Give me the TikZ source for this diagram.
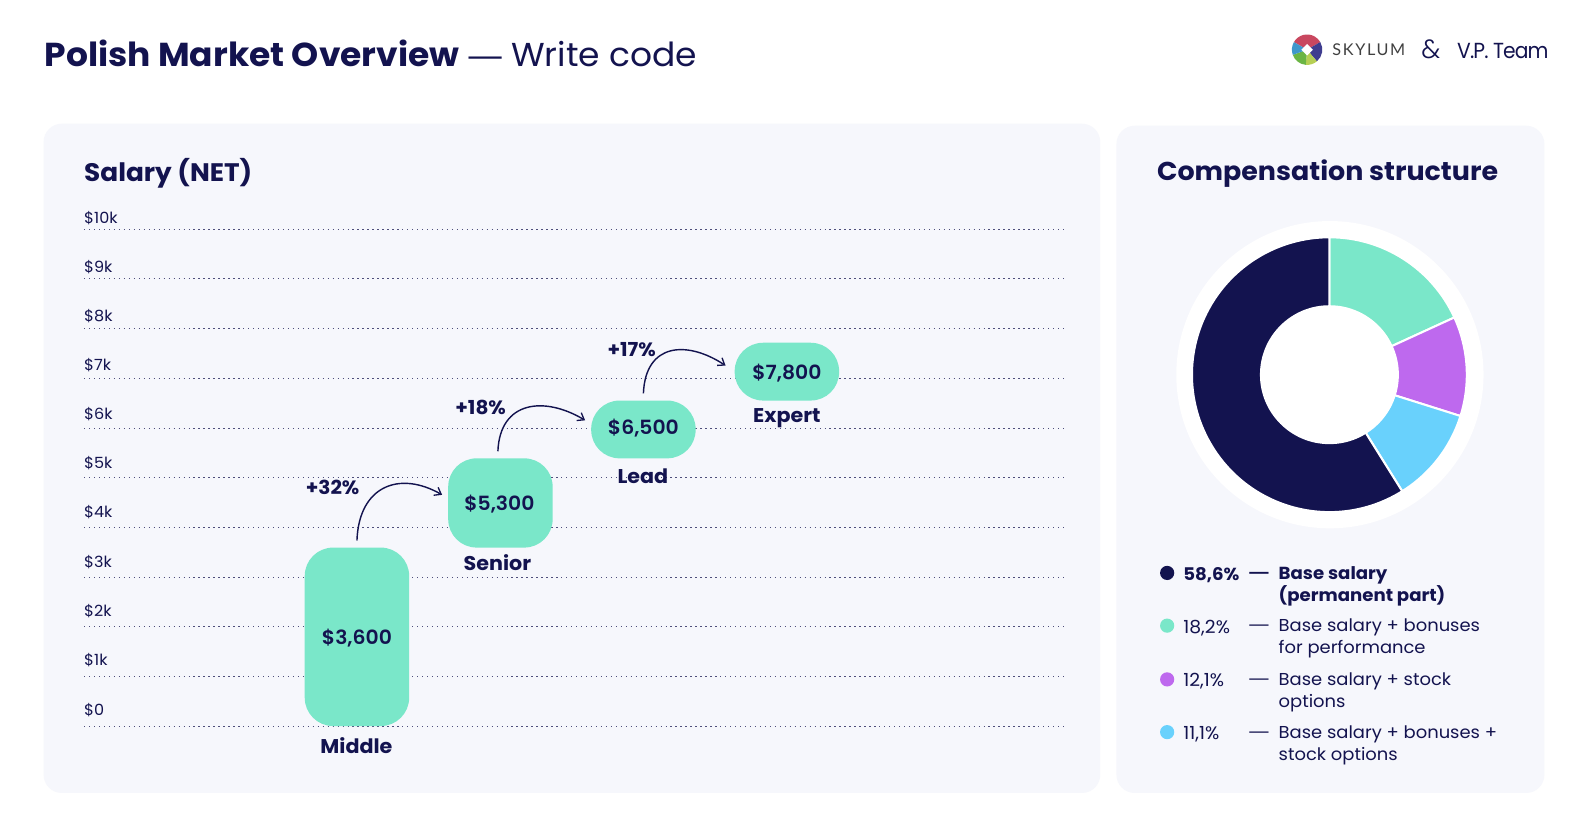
\documentclass[tikz,border=0pt]{standalone}
\usepackage{fontspec}
\setmainfont{Poppins}[FakeStretch=1.04]
\newfontfamily\logofont{Lato}[LetterSpace=10]
\newfontfamily\semifont{Poppins SemiBold}[FakeStretch=1.04]
\newfontfamily\vipfont{Poppins}[LetterSpace=-4,FakeStretch=0.93]
\newfontfamily\dashfont{Liberation Sans}
\usetikzlibrary{arrows.meta}
\definecolor{navy}{HTML}{13134F}
\definecolor{panelbg}{HTML}{F6F7FC}
\definecolor{mint}{HTML}{7AE7C9}
\definecolor{violet}{HTML}{BE69EE}
\definecolor{sky}{HTML}{69D1FC}
\definecolor{logored}{HTML}{C9475F}
\definecolor{logoblue}{HTML}{3F3D8F}
\definecolor{logolime}{HTML}{B6CF54}
\definecolor{logogreen}{HTML}{6BB544}
\definecolor{logosky}{HTML}{3F97CC}
\newcommand{\fs}[1]{\fontsize{#1}{#1}\selectfont}
\newcommand{\wedgeslice}[4]{\filldraw[fill=#4,draw=white,line width=#1pt] (dc) -- ++(#2:135.5pt) arc[start angle=#2,end angle=#3,radius=135.5pt] -- cycle;}
\newcommand{\logoslice}[3]{\fill[#3] (lc) -- ++(#1:15pt) arc[start angle=#1,end angle=#2,radius=15pt] -- cycle;}
\tikzset{
  x=1pt,y=-1pt,
  every node/.style={inner sep=0pt,outer sep=0pt,text=navy},
  panel/.style={fill=panelbg,rounded corners=18pt},
  grid line/.style={navy!75,line width=0.8pt,dash pattern=on 1.3pt off 3.6pt},
  axis label/.style={anchor=west,font=\fs{15.2}},
  bar/.style={fill=mint,rounded corners=28pt,minimum width=103pt},
  value/.style={font=\semifont\fs{19.3}},
  level/.style={font=\fs{19.6}\bfseries},
  rise/.style={font=\fs{19}\bfseries},
  flow/.style={draw=navy,line width=1.4pt,-{Straight Barb[length=6pt,width=9pt,line width=1.3pt]}},
  legend text/.style={anchor=west,font=\fs{17}},
  legend pct/.style={anchor=west,font=\fs{17.8}},
  legend strong/.style={anchor=west,font=\fs{17.2}\bfseries},
  legend dash/.style={anchor=west,font=\dashfont\fs{19}},
  legend dot/.style={circle,minimum size=14pt},
}
\begin{document}
\begin{tikzpicture}
\useasboundingbox (0,0) rectangle (1568,820.5);
\fill[white] (0,0) rectangle (1568,820.5);
% title
\node[anchor=west,font=\fs{32.7}] (title) at (44,53) {\textbf{Polish Market Overview} {\dashfont—} Write code};
% logos
\coordinate (lc) at (1289,49);
\logoslice{150}{30}{logored}
\logoslice{30}{-50}{logoblue}
\logoslice{-50}{-95}{logolime}
\logoslice{-95}{-160}{logogreen}
\logoslice{-160}{-210}{logosky}
\fill[white,rotate around={45:(lc)}] (1285,45) rectangle (1293,53);
\node[anchor=west,font=\logofont\fs{16},text=black!75] (skylum) at (1314,49) {SKYLUM};
\node[font=\fs{26}\fontspec{Poppins Light}] (amp) at (1411,49) {\&};
\node[anchor=west,font=\vipfont\fs{21.5}] (vip) at (1437,50) {V.P. Team};
% panels
\fill[panel] (43,122) rectangle (1085,782);
\fill[panel] (1101,124) rectangle (1523,782);
\node[anchor=west,font=\fs{25}\bfseries] (salary) at (83,170.5) {Salary (NET)};
\node[anchor=west,font=\fs{25.5}\bfseries] (comp) at (1141,171.5) {Compensation structure};
% grid
\foreach \yy/\ly/\lab in {226/215/\$10k,275/263.5/\$9k,324/312/\$8k,373/360.5/\$7k,422/408.5/\$6k,471/457/\$5k,520/505.5/\$4k,569/554/\$3k,618/602.5/\$2k,667/651/\$1k,716/700/\$0}{
  \draw[grid line] (83,\yy) -- (1049,\yy);
  \node[axis label] at (83,\ly) {\lab};
}
% bars
\node[bar,minimum height=176pt] (mid) at (352,628) {};
\node[bar,minimum height=88pt] (sen) at (493.5,496) {};
\node[bar,minimum height=57pt] (lea) at (634.5,423.5) {};
\node[bar,minimum height=57pt] (exp) at (776,366.5) {};
\node[value] at (352,629.5) {\$3,600};
\node[value] at (492.5,497.5) {\$5,300};
\node[value] at (634.5,422) {\$6,500};
\node[value] at (776,368) {\$7,800};
\node[level] (lmid) at (351.5,735) {Middle};
\node[level] (lsen) at (490.5,555) {Senior};
\node[level] (llea) at (634,470) {Lead};
\node[level] (lexp) at (776,412) {Expert};
\node[rise] (r1) at (328,480.5) {+32\%};
\node[rise] (r2) at (474,401.5) {+18\%};
\node[rise] (r3) at (623,344.5) {+17\%};
\draw[flow] ([yshift=7pt]mid.north) .. controls +(2,-54) and +(-42,-24) .. ([shift={(-6,-8)}]sen.west);
\draw[flow] ([shift={(-2.5,-7)}]sen.north) .. controls +(2,-50) and +(-40,-24) .. ([shift={(-6,-9)}]lea.west);
\draw[flow] ([shift={(0,-7)}]lea.north) .. controls +(2,-50) and +(-38,-25) .. ([shift={(-9,-6)}]exp.west);
% donut
\fill[white] (1311.5,369.5) circle[radius=151.5pt];
\coordinate (dc) at (1311,369.5);
\wedgeslice{2}{90}{24.6}{mint}
\wedgeslice{2}{24.6}{-17.5}{violet}
\wedgeslice{2}{-17.5}{-58}{sky}
\wedgeslice{2}{-58}{-270}{navy}
\fill[white] (dc) circle[radius=68.5pt];
% legend
\node[legend dot,fill=navy] (d1) at (1151,565) {};
\node[legend dot,fill=mint] (d2) at (1151,617) {};
\node[legend dot,fill=violet] (d3) at (1151,670) {};
\node[legend dot,fill=sky] (d4) at (1151,722) {};
\node[legend strong] at (1167,567) {58,6\%};
\node[legend pct] at (1167,619) {18,2\%};
\node[legend pct] at (1167,672) {12,1\%};
\node[legend pct] at (1167,724.5) {11,1\%};
\node[legend dash,font=\dashfont\bfseries\fs{19}] at (1232,567.5) {—};
\node[legend dash] at (1232,619.5) {—};
\node[legend dash] at (1232,672.5) {—};
\node[legend dash] at (1232,724.5) {—};
\node[legend strong] at (1261,567) {Base salary};
\node[legend strong] at (1261,588) {(permanent part)};
\node[legend text] at (1261,619) {Base salary + bonuses};
\node[legend text] at (1261,640.5) {for performance};
\node[legend text] at (1261,672) {Base salary + stock};
\node[legend text] at (1261,693.5) {options};
\node[legend text] at (1261,724.5) {Base salary + bonuses +};
\node[legend text] at (1261,745.5) {stock options};
\end{tikzpicture}
\end{document}
